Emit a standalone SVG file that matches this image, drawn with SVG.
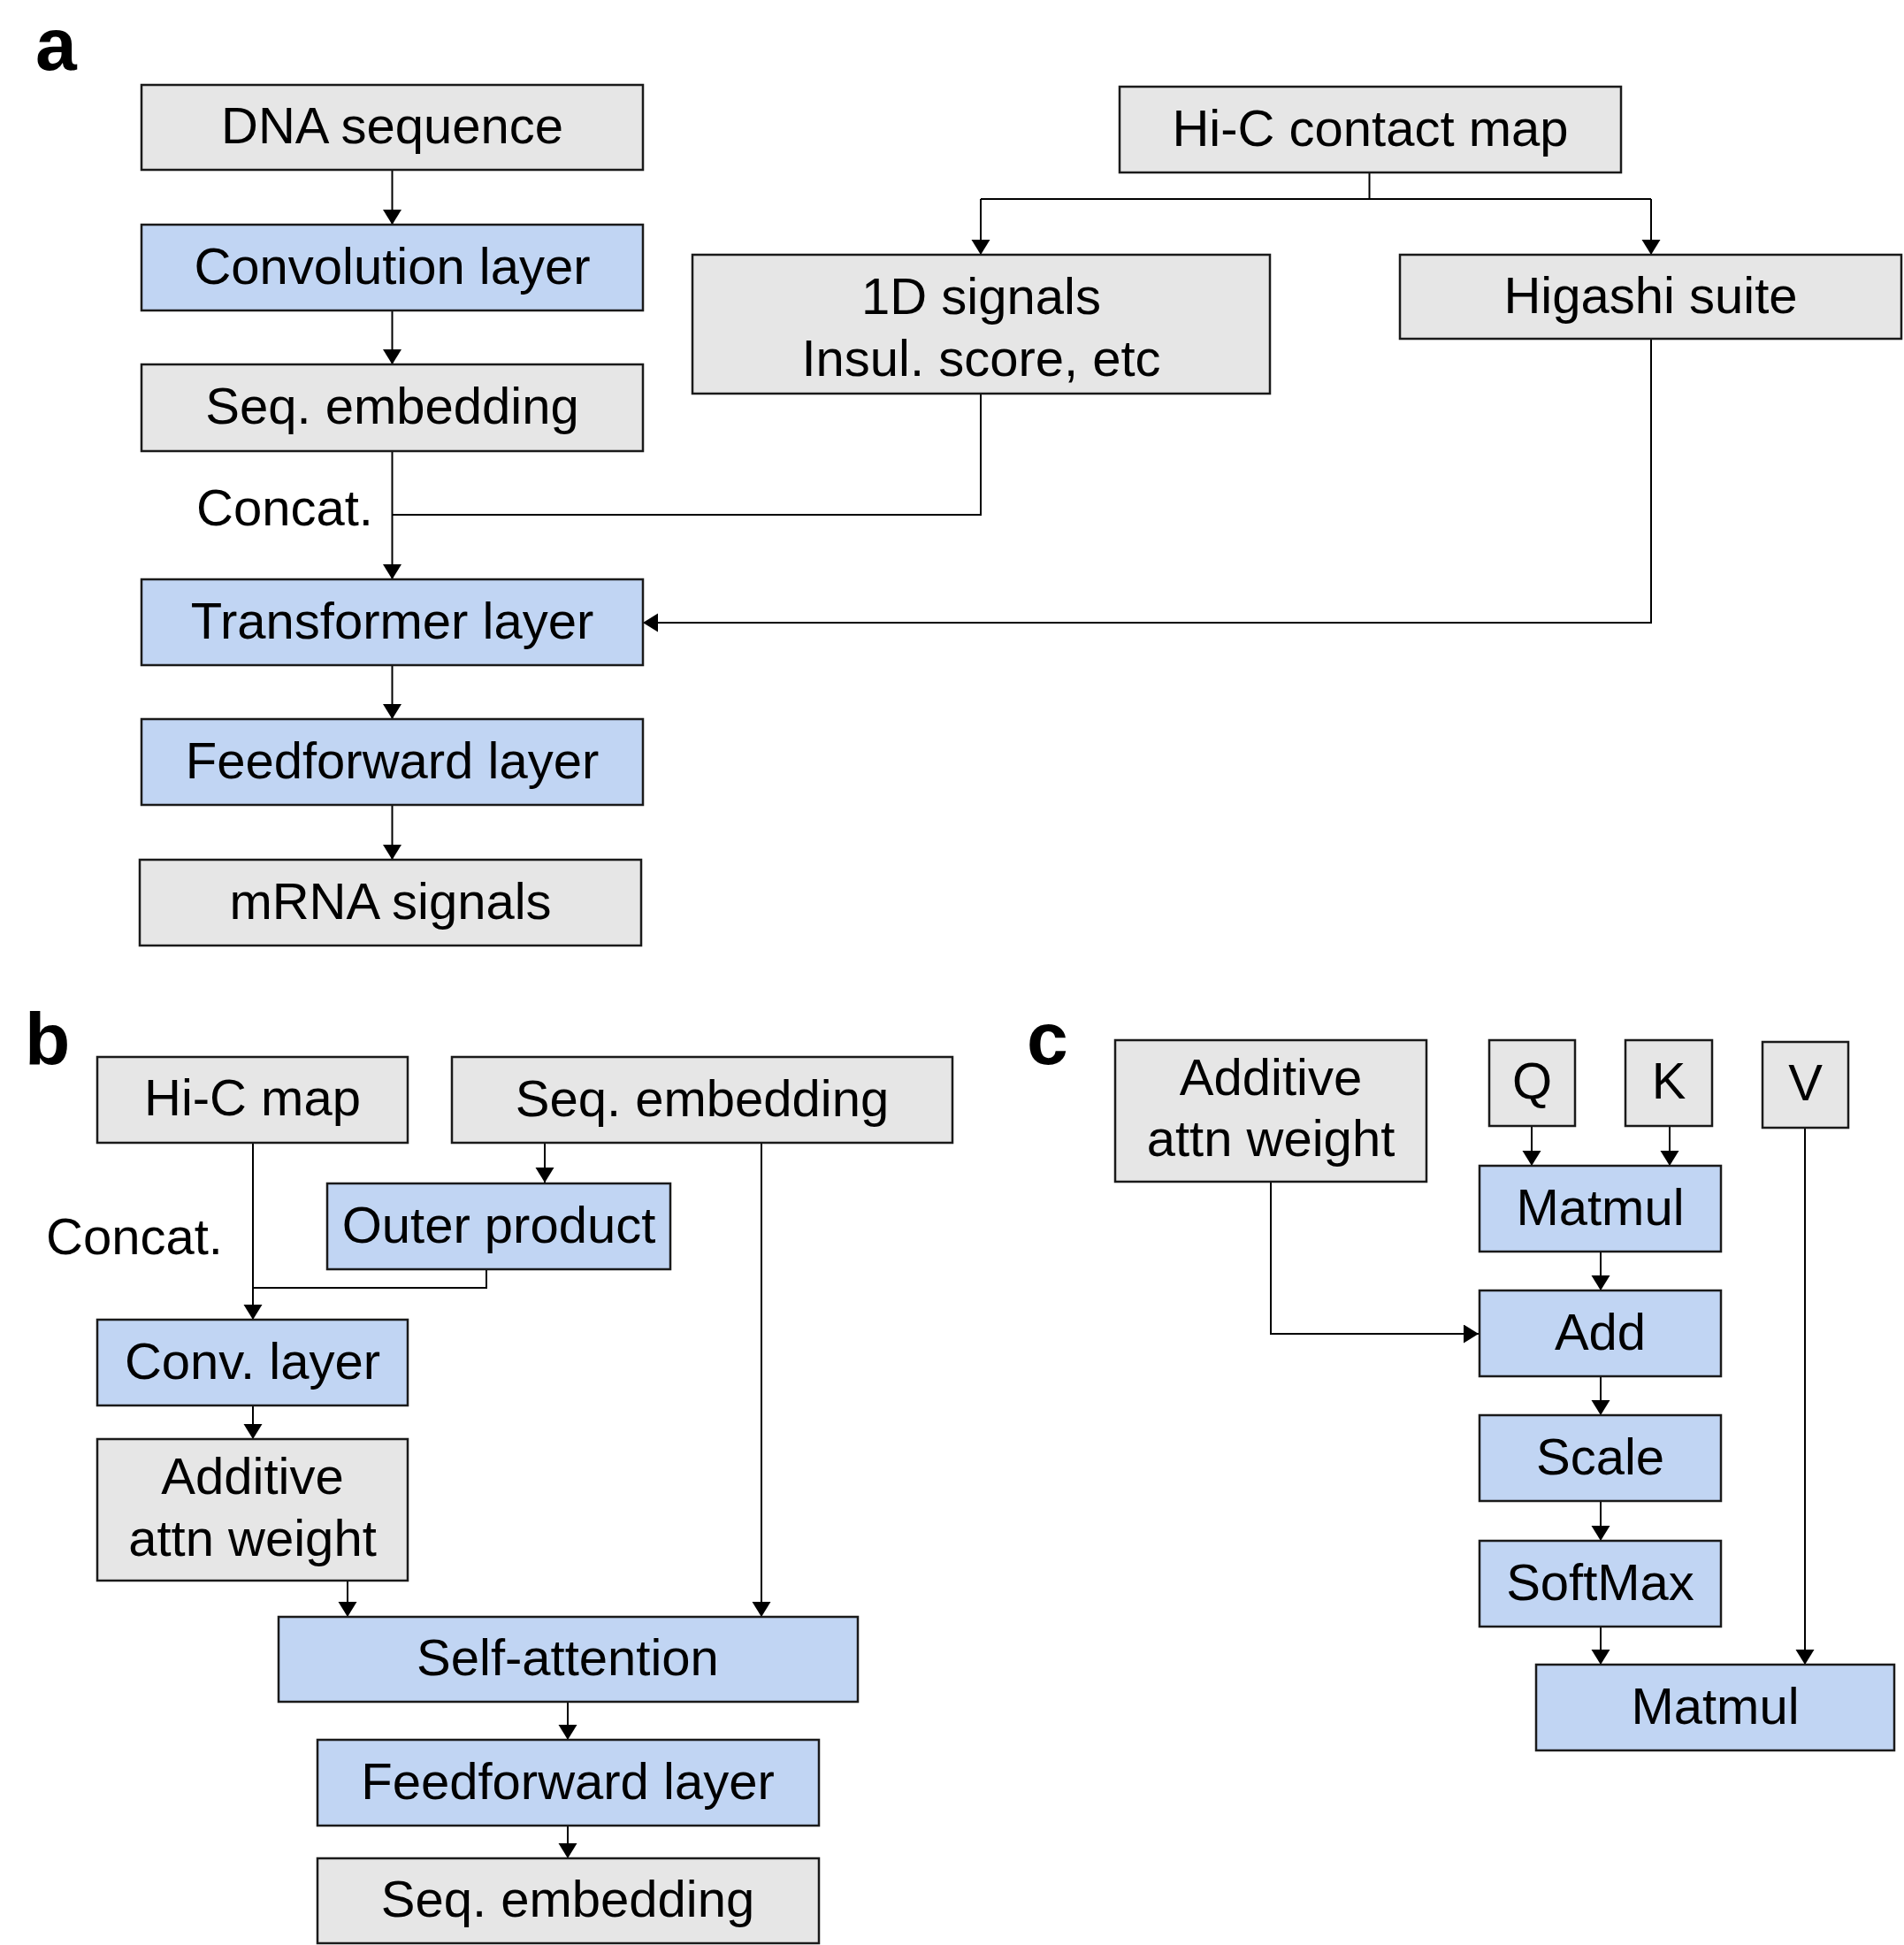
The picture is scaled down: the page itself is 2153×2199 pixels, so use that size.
<svg xmlns="http://www.w3.org/2000/svg" width="2153" height="2199" viewBox="0 0 2153 2199">
<defs>
<marker id="arr" markerUnits="userSpaceOnUse" markerWidth="18" markerHeight="22" refX="17" refY="10.5" orient="auto">
<path d="M0,0 L17,10.5 L0,21 z" fill="#000"/>
</marker>
<style>
.g{fill:#e6e6e6;stroke:#1a1a1a;stroke-width:2.5}
.b{fill:#c1d5f3;stroke:#1a1a1a;stroke-width:2.5}
.t{font-family:"Liberation Sans",Arial,sans-serif;font-size:58px;fill:#000;text-anchor:middle}
.l{font-family:"Liberation Sans",Arial,sans-serif;font-size:58px;fill:#000}
.p{font-family:"Liberation Sans",Arial,sans-serif;font-size:84px;font-weight:bold;fill:#000}
.c{fill:none;stroke:#000;stroke-width:2}
.c.a{marker-end:url(#arr)}
</style>
</defs>
<rect width="2153" height="2199" fill="#fff"/>

<text class="p" x="40" y="79">a</text>
<text class="p" x="28" y="1204">b</text>
<text class="p" x="1161" y="1203">c</text>

<g id="connectors">
<!-- panel a -->
<path class="c a" d="M443.5,192 V254"/>
<path class="c a" d="M443.5,351 V412"/>
<path class="c a" d="M443.5,510 V655"/>
<path class="c" d="M1109,445 V582 H443.5"/>
<path class="c" d="M1548.5,195 V225"/>
<path class="c" d="M1109,225 H1867"/>
<path class="c a" d="M1109,225 V288"/>
<path class="c a" d="M1867,225 V288"/>
<path class="c a" d="M1867,383 V704 H727"/>
<path class="c a" d="M443.5,752 V813"/>
<path class="c a" d="M443.5,910 V972"/>
<!-- panel b -->
<path class="c a" d="M286,1292 V1492"/>
<path class="c a" d="M616,1292 V1337"/>
<path class="c" d="M550,1435 V1456 H286"/>
<path class="c a" d="M286,1589 V1627"/>
<path class="c a" d="M393,1787 V1828"/>
<path class="c a" d="M861,1292 V1828"/>
<path class="c a" d="M642,1924 V1967"/>
<path class="c a" d="M642,2064 V2101"/>
<!-- panel c -->
<path class="c a" d="M1732,1273 V1318"/>
<path class="c a" d="M1888,1273 V1318"/>
<path class="c a" d="M2041,1275 V1882"/>
<path class="c a" d="M1437,1336 V1508 H1672"/>
<path class="c a" d="M1810,1415 V1459"/>
<path class="c a" d="M1810,1556 V1600"/>
<path class="c a" d="M1810,1697 V1742"/>
<path class="c a" d="M1810,1839 V1882"/>
</g>

<!-- panel a nodes -->
<g id="a-dna"><rect class="g" x="160" y="96" width="567" height="96"/><text class="t" x="443.5" y="162">DNA sequence</text></g>
<g id="a-conv"><rect class="b" x="160" y="254" width="567" height="97"/><text class="t" x="443.5" y="321">Convolution layer</text></g>
<g id="a-seq"><rect class="g" x="160" y="412" width="567" height="98"/><text class="t" x="443.5" y="479">Seq. embedding</text></g>
<text class="l" x="222" y="594">Concat.</text>
<g id="a-transformer"><rect class="b" x="160" y="655" width="567" height="97"/><text class="t" x="443.5" y="722">Transformer layer</text></g>
<g id="a-ff"><rect class="b" x="160" y="813" width="567" height="97"/><text class="t" x="443.5" y="880">Feedforward layer</text></g>
<g id="a-mrna"><rect class="g" x="158" y="972" width="567" height="97"/><text class="t" x="441.5" y="1039">mRNA signals</text></g>
<g id="a-hic"><rect class="g" x="1266" y="98" width="567" height="97"/><text class="t" x="1549.5" y="165">Hi-C contact map</text></g>
<g id="a-1d"><rect class="g" x="783" y="288" width="653" height="157"/><text class="t" x="1109.5" y="355">1D signals</text><text class="t" x="1109.5" y="425">Insul. score, etc</text></g>
<g id="a-higashi"><rect class="g" x="1583" y="288" width="567" height="95"/><text class="t" x="1866.5" y="354">Higashi suite</text></g>

<!-- panel b nodes -->
<g id="b-hic"><rect class="g" x="110" y="1195" width="351" height="97"/><text class="t" x="285.5" y="1261">Hi-C map</text></g>
<g id="b-seq"><rect class="g" x="511" y="1195" width="566" height="97"/><text class="t" x="794" y="1262">Seq. embedding</text></g>
<g id="b-outer"><rect class="b" x="370" y="1338" width="388" height="97"/><text class="t" x="564" y="1405">Outer product</text></g>
<text class="l" x="52" y="1418">Concat.</text>
<g id="b-conv"><rect class="b" x="110" y="1492" width="351" height="97"/><text class="t" x="285.5" y="1559">Conv. layer</text></g>
<g id="b-additive"><rect class="g" x="110" y="1627" width="351" height="160"/><text class="t" x="285.5" y="1689">Additive</text><text class="t" x="285.5" y="1759">attn weight</text></g>
<g id="b-selfatt"><rect class="b" x="315" y="1828" width="655" height="96"/><text class="t" x="642" y="1894">Self-attention</text></g>
<g id="b-ff"><rect class="b" x="359" y="1967" width="567" height="97"/><text class="t" x="642" y="2034">Feedforward layer</text></g>
<g id="b-seqout"><rect class="g" x="359" y="2101" width="567" height="96"/><text class="t" x="642" y="2167">Seq. embedding</text></g>

<!-- panel c nodes -->
<g id="c-additive"><rect class="g" x="1261" y="1176" width="352" height="160"/><text class="t" x="1437" y="1238">Additive</text><text class="t" x="1437" y="1307">attn weight</text></g>
<g id="c-q"><rect class="g" x="1684" y="1176" width="97" height="97"/><text class="t" x="1732.5" y="1242">Q</text></g>
<g id="c-k"><rect class="g" x="1838" y="1176" width="98" height="97"/><text class="t" x="1887" y="1242">K</text></g>
<g id="c-v"><rect class="g" x="1993" y="1178" width="97" height="97"/><text class="t" x="2041.5" y="1244">V</text></g>
<g id="c-matmul1"><rect class="b" x="1673" y="1318" width="273" height="97"/><text class="t" x="1809.5" y="1385">Matmul</text></g>
<g id="c-add"><rect class="b" x="1673" y="1459" width="273" height="97"/><text class="t" x="1809.5" y="1526">Add</text></g>
<g id="c-scale"><rect class="b" x="1673" y="1600" width="273" height="97"/><text class="t" x="1809.5" y="1667">Scale</text></g>
<g id="c-softmax"><rect class="b" x="1673" y="1742" width="273" height="97"/><text class="t" x="1809.5" y="1809">SoftMax</text></g>
<g id="c-matmul2"><rect class="b" x="1737" y="1882" width="405" height="97"/><text class="t" x="1939.5" y="1949">Matmul</text></g>
</svg>
